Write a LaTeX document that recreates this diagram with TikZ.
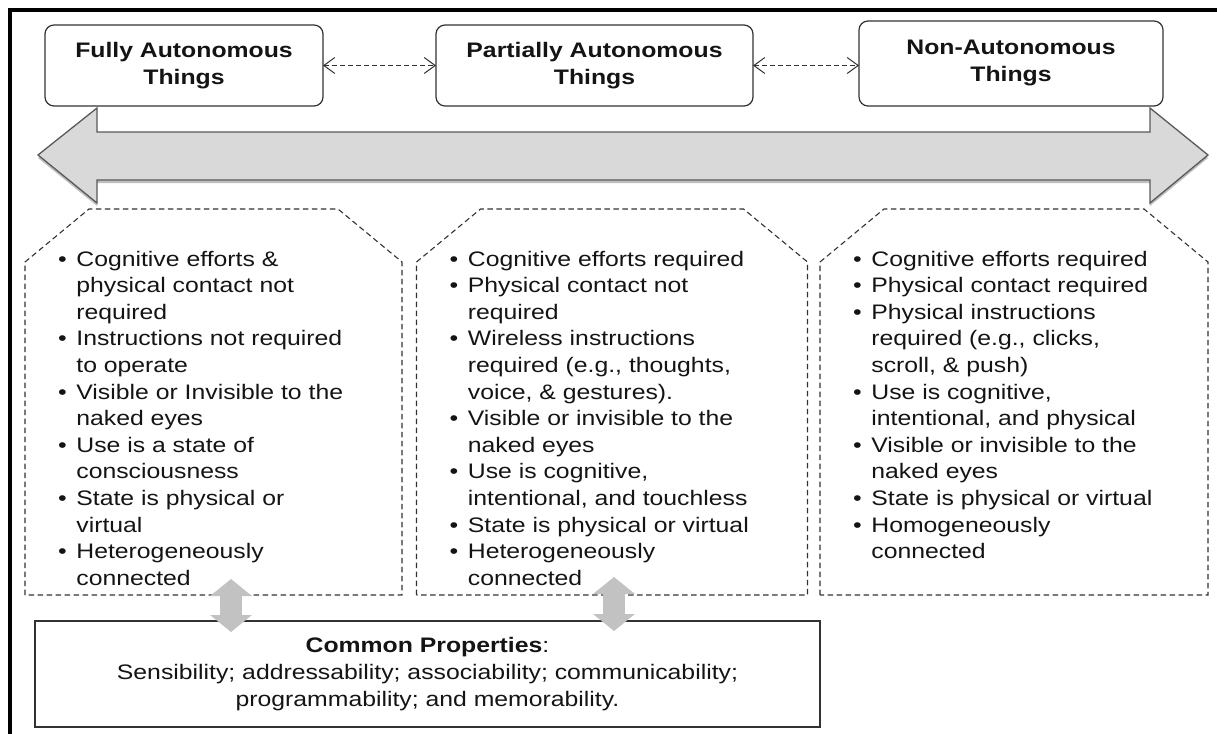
\documentclass[tikz,border=0pt]{standalone}
\usepackage{fontspec}
\setmainfont[FakeStretch=1.18]{Liberation Sans}
\definecolor{linegray}{RGB}{50,50,50}
\definecolor{arrowfill}{RGB}{217,217,217}
\definecolor{arrowline}{RGB}{89,89,89}
\definecolor{linkgray}{RGB}{194,194,194}
\definecolor{textdark}{RGB}{20,20,20}
\usetikzlibrary{arrows.meta, positioning, shadows}

\newcommand{\bul}{\textbullet}

\begin{document}
\begin{tikzpicture}[x=1pt, y=-1pt, node distance=113pt,
    thing/.style={rectangle, draw=linegray, line width=1.2pt, rounded corners=9pt, minimum height=81pt, align=center, font=\fontsize{21}{27}\selectfont\bfseries, text=textdark, outer sep=0pt},
    panel/.style={rectangle, minimum height=386pt, outer sep=0pt},
    outline/.style={draw=linegray, line width=1.1pt, dash pattern=on 5.5pt off 3.5pt},
    itemlist/.style={anchor=base west, inner sep=0pt, font=\fontsize{21}{26.6}\selectfont, text=textdark},
    dlink/.style={draw=linegray, line width=1pt, dash pattern=on 5pt off 3pt, {Straight Barb[length=11pt,width=16pt]}-{Straight Barb[length=11pt,width=16pt]}},
    updown/.style={draw=linkgray, line width=22pt, {Triangle[length=17pt,width=41pt]}-{Triangle[length=17pt,width=41pt]}}
]
    \useasboundingbox (0,0) rectangle (1217,733);

    % Frame
    \draw[line width=3.5pt] (1220,10) -- (10,10) -- (10,740);

    % Kinds of things
    \node[thing, minimum width=278pt] (fully) at (184,65.5) {Fully Autonomous\\Things};
    \node[thing, minimum width=317pt, right=of fully] (partly) {Partially Autonomous\\Things};
    \node[thing, minimum width=304pt, minimum height=85pt, right=106pt of partly, yshift=2pt] (non) {Non-Autonomous\\Things};

    \draw[dlink] (fully) -- (partly);
    \draw[dlink] (partly.east) -- (partly.east -| non.west);

    % Scale arrow
    \filldraw[fill=arrowfill, draw=arrowline, line width=1.3pt, drop shadow={shadow xshift=0pt, shadow yshift=-3pt, fill=black, opacity=0.25}]
        (38,155) -- (97,108) -- (97,132) -- (1150,132) -- (1150,108) -- (1208,155)
        -- (1150,203) -- (1150,180) -- (97,180) -- (97,203) -- cycle;

    % Property panels
    \node[panel, minimum width=377pt] (panelA) at (213.5,402) {};
    \node[panel, minimum width=391pt] (panelB) at (612,402) {};
    \node[panel, minimum width=388pt] (panelC) at (1014,402) {};
    \foreach \p in {panelA,panelB,panelC}
        \draw[outline] (\p.south west) -- ([yshift=-53pt]\p.north west) -- ([xshift=64pt]\p.north west)
            -- ([xshift=-64pt]\p.north east) -- ([yshift=-53pt]\p.north east) -- (\p.south east) -- cycle;

    \node[itemlist] (listA) at ([xshift=33pt,yshift=-57pt]panelA.north west) {\begin{tabular}[t]{@{}l@{\hspace{9.5pt}}l@{}}
        \bul & Cognitive efforts \& \\
             & physical contact not \\
             & required \\
        \bul & Instructions not required \\
             & to operate \\
        \bul & Visible or Invisible to the \\
             & naked eyes \\
        \bul & Use is a state of \\
             & consciousness \\
        \bul & State is physical or \\
             & virtual \\
        \bul & Heterogeneously \\
             & connected
    \end{tabular}};
    \node[itemlist] (listB) at ([xshift=33pt,yshift=-57pt]panelB.north west) {\begin{tabular}[t]{@{}l@{\hspace{9.5pt}}l@{}}
        \bul & Cognitive efforts required \\
        \bul & Physical contact not \\
             & required \\
        \bul & Wireless instructions \\
             & required (e.g., thoughts, \\
             & voice, \& gestures). \\
        \bul & Visible or invisible to the \\
             & naked eyes \\
        \bul & Use is cognitive, \\
             & intentional, and touchless \\
        \bul & State is physical or virtual \\
        \bul & Heterogeneously \\
             & connected
    \end{tabular}};
    \node[itemlist] (listC) at ([xshift=33pt,yshift=-57pt]panelC.north west) {\begin{tabular}[t]{@{}l@{\hspace{9.5pt}}l@{}}
        \bul & Cognitive efforts required \\
        \bul & Physical contact required \\
        \bul & Physical instructions \\
             & required (e.g., clicks, \\
             & scroll, \& push) \\
        \bul & Use is cognitive, \\
             & intentional, and physical \\
        \bul & Visible or invisible to the \\
             & naked eyes \\
        \bul & State is physical or virtual \\
        \bul & Homogeneously \\
             & connected
    \end{tabular}};

    % Common properties
    \node[draw=linegray, line width=1.2pt, minimum width=785pt, minimum height=106pt, align=center, font=\fontsize{21}{26.6}\selectfont, text=textdark] (common) at (427.5,674)
        {\textbf{Common Properties}:\\Sensibility; addressability; associability; communicability;\\programmability; and memorability.};

    \draw[updown] ([xshift=17.5pt,yshift=16pt]panelA.south) -- ++(0,53);
    \draw[updown] ([xshift=2pt,yshift=18pt]panelB.south) -- ++(0,54);
\end{tikzpicture}
\end{document}
